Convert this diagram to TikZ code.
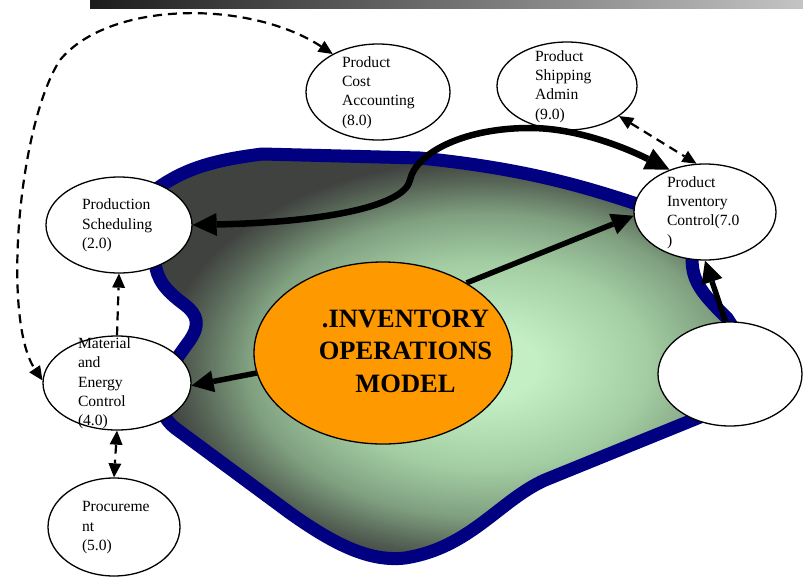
\documentclass[tikz,border=0pt]{standalone}
\usepackage{fontspec}
\setmainfont{Liberation Serif}
\usetikzlibrary{shapes.geometric,arrows.meta}
\definecolor{navyb}{HTML}{000080}
\definecolor{orng}{HTML}{FF9900}
\definecolor{gla}{HTML}{C4EEC4}
\definecolor{glb}{HTML}{A2CCA2}
\definecolor{glc}{HTML}{80A080}
\definecolor{gld}{HTML}{566456}
\definecolor{gle}{HTML}{404240}
\definecolor{barL}{HTML}{1C1C1C}
\definecolor{barR}{HTML}{C4C4C4}
\pgfdeclareradialshading{blobshade}{\pgfpoint{0bp}{0bp}}{color(0bp)=(gla); color(4bp)=(gla); color(12.5bp)=(glb); color(18bp)=(glc); color(22bp)=(gld); color(24.5bp)=(gle); color(50bp)=(gle)}
\newcommand{\ltxt}[2]{\smash{\makebox[0pt][l]{\hspace*{#1}\raisebox{-.25em}{\begin{tabular}{@{}l@{}}#2\end{tabular}}}}}
\newcommand{\ctxt}[2]{\smash{\makebox[0pt]{\hspace*{#1}\raisebox{-.25em}{\begin{tabular}{@{}c@{}}#2\end{tabular}}}}}
\def\blobpath{(155,190) .. controls (185,168) and (215,160) .. (262,154) -- (420,158) .. controls (520,168) and (580,185) .. (640,205) -- (690,240) -- (692,258) .. controls (692,280) and (700,292) .. (727,318) -- (738,335) -- (738,400) -- (710,413) -- (545,480) .. controls (500,500) and (470,548) .. (405,558) .. controls (370,562) and (335,545) .. (290,513) -- (175,428) .. controls (165,420) and (160,410) .. (162,398) -- (172,365) -- (190,340) .. controls (200,325) and (198,315) .. (185,305) .. controls (165,290) and (157,280) .. (155,262) -- cycle}
\begin{document}
\begin{tikzpicture}[x=1pt,y=-1pt,
  bub/.style={ellipse, draw=black, line width=1.3pt, fill=white, inner sep=0pt, font=\fontsize{15.6}{19.4}\selectfont},
  bigarr/.style={line width=5.5pt, -{Triangle[length=22pt,width=22pt,line width=0pt]}},
  curvarr/.style={line width=6.5pt, {Triangle[length=24pt,width=23pt,line width=0pt]}-{Triangle[length=24pt,width=23pt,line width=0pt]}},
  dasharr/.style={line width=2.2pt, dash pattern=on 9pt off 6pt, -{Triangle[length=14pt,width=13pt,line width=0pt]}},
  dasharrb/.style={line width=2.2pt, dash pattern=on 9pt off 6pt, {Triangle[length=14pt,width=13pt,line width=0pt]}-{Triangle[length=14pt,width=13pt,line width=0pt]}}]
\useasboundingbox (0,0) rectangle (803,579);
% top bar
\shade[left color=barL, right color=barR] (90,0) rectangle (803,8);
% blob
\begin{scope}
  \clip \blobpath;
  \shade[shading=blobshade] (155,155) rectangle (815,575);
\end{scope}
\draw[navyb, line width=13pt, line join=round] \blobpath;
% nodes
\node[bub, minimum width=144pt, minimum height=96pt] (pca) at (378,92) {\ltxt{-36pt}{Product\\Cost\\Accounting\\(8.0)}};
\node[bub, minimum width=140pt, minimum height=88pt] (psa) at (567,86) {\ltxt{-32pt}{Product\\Shipping\\Admin\\(9.0)}};
\node[bub, minimum width=142pt, minimum height=96pt] (pic) at (705,212) {\ltxt{-38pt}{Product\\Inventory\\Control(7.0\\)}};
\node[bub, minimum width=146pt, minimum height=96pt] (ps) at (119,225) {\ltxt{-37pt}{Production\\Scheduling\\(2.0)}};
\node[bub, minimum width=148pt, minimum height=94pt] (mat) at (117,383) {\ltxt{-39pt}{Material\\and\\Energy\\Control\\(4.0)}};
\node[bub, minimum width=132pt, minimum height=98pt] (proc) at (114,527) {\ltxt{-32pt}{Procureme\\nt\\(5.0)}};
\node[bub, minimum width=144pt, minimum height=104pt] (blank) at (730,374) {};
\node[ellipse, draw=black, line width=1.3pt, fill=orng, minimum width=258pt, minimum height=182pt, inner sep=0pt, font=\bfseries\fontsize{26.5}{32.5}\selectfont] (iom) at (383,353) {\ctxt{45pt}{.INVENTORY\\OPERATIONS\\MODEL}};
% connectors
\draw[bigarr] (iom.189) -- (mat.-2);
\draw[bigarr] (iom.40) -- (pic.183);
\draw[bigarr] (blank.95) -- (pic.south);
\draw[curvarr] (ps.east) .. controls (330,222) and (405,205) .. (410,180) .. controls (415,155) and (460,128) .. (530,128) .. controls (580,128) and (630,150) .. (pic.130);
\draw[dasharr] (mat.north) -- (ps.south);
\draw[dasharrb] (mat.south) -- (proc.north);
\draw[dasharrb] (psa.-30) -- (pic.100);
\draw[dasharrb] (pca.140) .. controls (250,0) and (110,0) .. (60,60) .. controls (18,125) and (2,320) .. (mat.178);
\end{tikzpicture}
\end{document}
